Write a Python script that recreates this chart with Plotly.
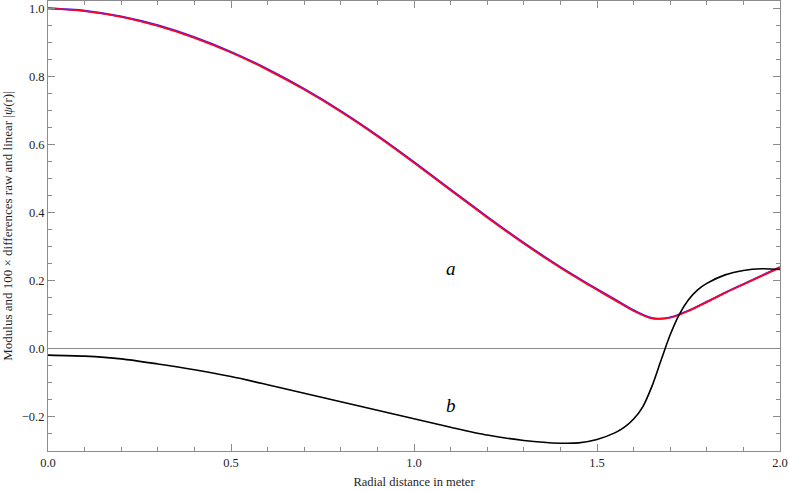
import plotly.graph_objects as go

# radial distance grid (meter) for the modulus curves
r = [0.0, 0.1, 0.2, 0.3, 0.4, 0.5, 0.6, 0.7, 0.8, 0.9, 1.0, 1.1, 1.2, 1.3, 1.4,
     1.45, 1.5, 1.55, 1.6, 1.65, 1.7, 1.75, 1.8, 1.85, 1.9, 1.95, 2.0]

# modulus |psi(r)|, raw (red) and linear (blue)
a_raw = [1.000, 0.992, 0.975, 0.948, 0.913, 0.870, 0.819, 0.761, 0.696, 0.624, 0.546,
         0.465, 0.385, 0.308, 0.237, 0.204, 0.172, 0.141, 0.110, 0.088, 0.090, 0.110,
         0.136, 0.163, 0.188, 0.213, 0.238]
a_lin = [1.000, 0.993, 0.976, 0.950, 0.915, 0.872, 0.821, 0.763, 0.698, 0.626, 0.548,
         0.467, 0.387, 0.310, 0.239, 0.206, 0.174, 0.143, 0.112, 0.089, 0.091, 0.111,
         0.137, 0.164, 0.189, 0.214, 0.239]

# 100 x difference raw - linear (finer grid where it rises)
r_b = [0.0, 0.1, 0.2, 0.3, 0.4, 0.5, 0.6, 0.7, 0.8, 0.9, 1.0, 1.1, 1.2, 1.3, 1.4,
       1.45, 1.5, 1.55, 1.575, 1.6, 1.625, 1.65, 1.675, 1.7, 1.725, 1.75, 1.775, 1.8,
       1.85, 1.9, 1.95, 2.0]
b_diff = [-0.020, -0.023, -0.031, -0.046, -0.063, -0.083, -0.107, -0.132, -0.157, -0.182,
          -0.207, -0.232, -0.255, -0.271, -0.279, -0.278, -0.268, -0.248, -0.232, -0.208,
          -0.172, -0.112, -0.035, 0.040, 0.100, 0.143, 0.172, 0.191, 0.216, 0.229, 0.234,
          0.232]

labels = [("a", 1.1, 0.236), ("b", 1.1, -0.167)]

serif = "Liberation Serif"
frame = "rgb(140,140,140)"

fig = go.Figure()
fig.add_trace(go.Scatter(x=r, y=a_lin, mode="lines", line=dict(color="rgb(40,40,255)", width=2, shape="spline", smoothing=0.8)))
fig.add_trace(go.Scatter(x=r, y=a_raw, mode="lines", line=dict(color="rgb(255,0,40)", width=1.8, shape="spline", smoothing=0.8)))
fig.add_trace(go.Scatter(x=r_b, y=b_diff, mode="lines", line=dict(color="black", width=1.6, shape="spline", smoothing=0.8)))

for txt, x, y in labels:
    fig.add_annotation(x=x, y=y, text=f"<i>{txt}</i>", showarrow=False,
                       font=dict(family=serif, size=19, color="black"))

fig.update_layout(
    width=789, height=491,
    margin=dict(l=48, r=9, t=1, b=40, autoexpand=False),
    plot_bgcolor="white", paper_bgcolor="white",
    showlegend=False,
    font=dict(family=serif, size=12.5, color="rgb(30,30,30)"),
    xaxis=dict(
        range=[0, 2], tickvals=[0, 0.5, 1.0, 1.5, 2.0], tickformat=".1f",
        ticks="inside", ticklen=7, tickcolor=frame, mirror="allticks",
        showline=True, linecolor=frame, linewidth=1, showgrid=False, zeroline=False,
        minor=dict(dtick=0.1, ticks="inside", ticklen=4, tickcolor=frame, showgrid=False),
        title=dict(text="Radial distance in meter", font=dict(size=12.5), standoff=8),
    ),
    yaxis=dict(
        range=[-0.302, 1.0215], tickvals=[-0.2, 0, 0.2, 0.4, 0.6, 0.8, 1.0], tickformat=".1f",
        ticks="inside", ticklen=7, tickcolor=frame, mirror="allticks",
        showline=True, linecolor=frame, linewidth=1, showgrid=False,
        zeroline=True, zerolinecolor=frame, zerolinewidth=1,
        minor=dict(dtick=0.05, ticks="inside", ticklen=4, tickcolor=frame, showgrid=False),
        title=dict(text="Modulus and 100 × differences raw and linear |<i>ψ</i>(r)|",
                   font=dict(size=13), standoff=6),
    ),
)

fig.write_html("out.html", config={"displayModeBar": False},
               post_script="document.body.style.margin='0';")
